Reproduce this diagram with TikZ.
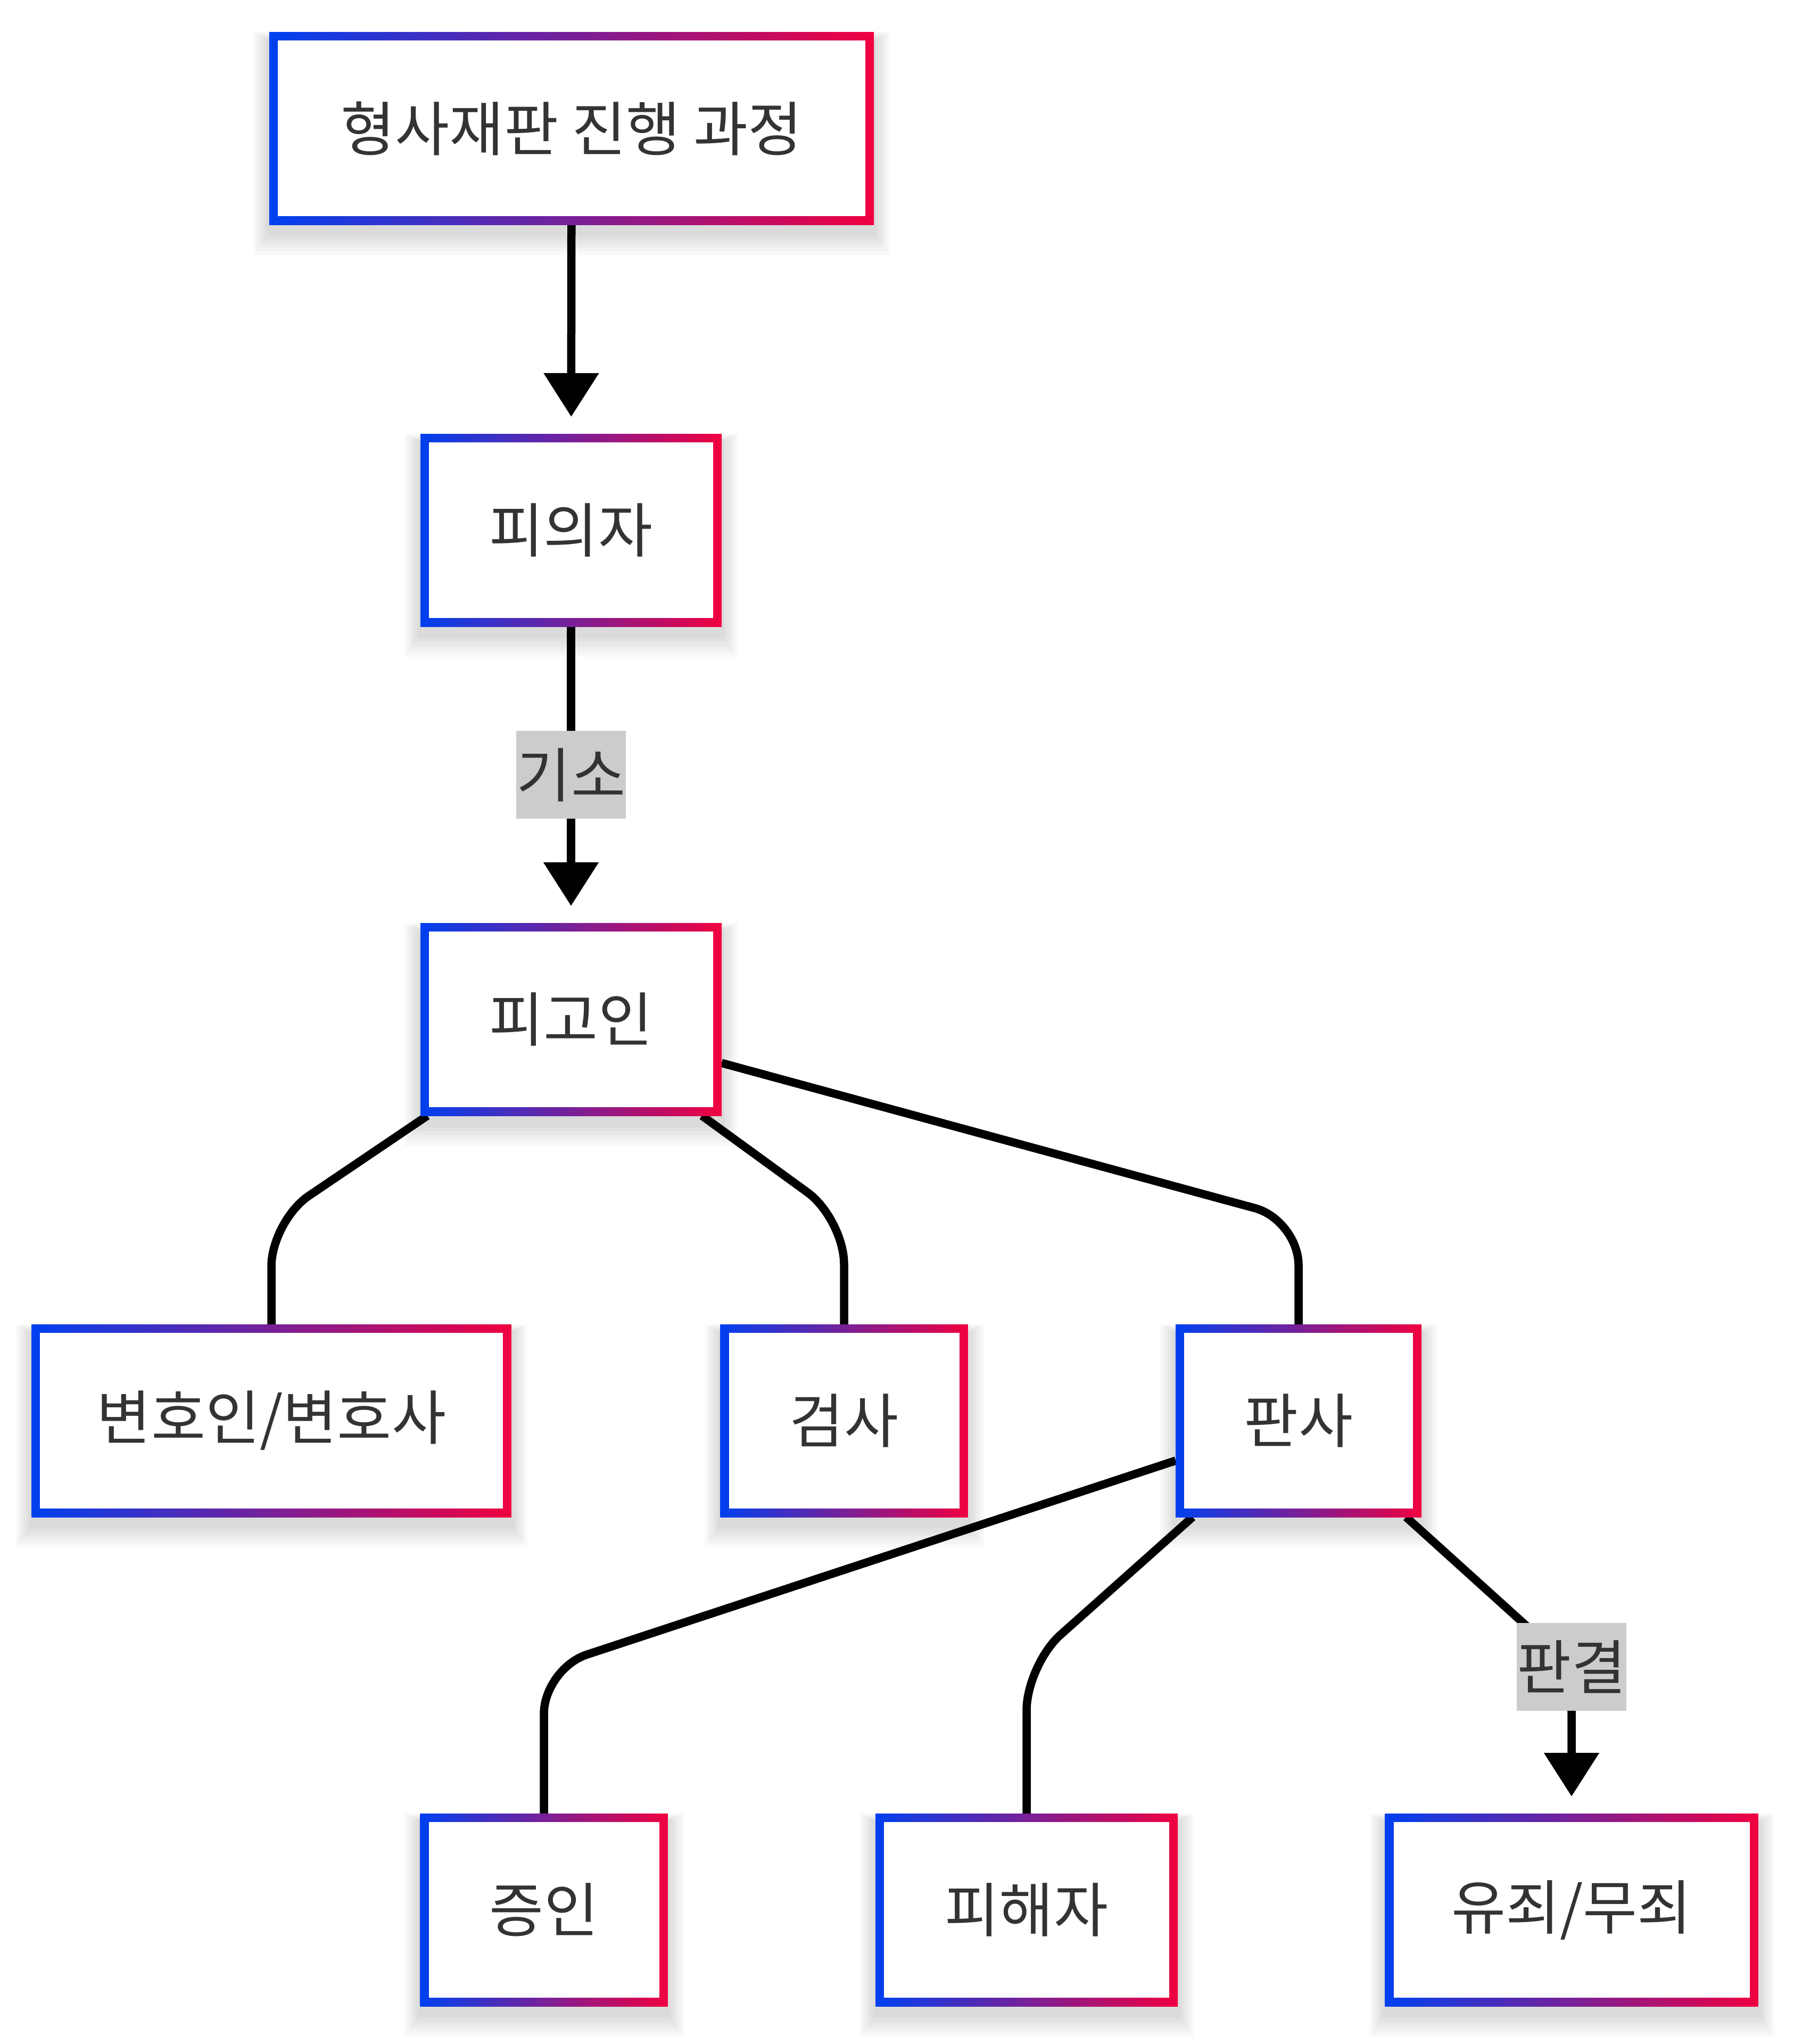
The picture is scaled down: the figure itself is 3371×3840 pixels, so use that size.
\documentclass[tikz,border=0pt]{standalone}
\usepackage{fontspec}
\newfontfamily\kr{Noto Sans CJK KR}
\usetikzlibrary{arrows.meta}
\definecolor{gblue}{RGB}{0,64,240}
\definecolor{gred}{RGB}{240,0,64}
\definecolor{txt}{RGB}{51,51,51}
\definecolor{lblbg}{RGB}{204,204,204}
\pgfdeclarelayer{bg}
\pgfdeclarelayer{shd}
\pgfdeclarelayer{edg}
\pgfdeclarelayer{brd}
\pgfsetlayers{bg,shd,edg,brd,main}
\newcommand\gborder[1]{%
  \begin{pgfonlayer}{shd}
    \foreach \i in {1,...,6} {
      \fill[black,opacity=0.022] ([shift={(-\i*1pt,-\i*1.4pt-3pt)}]#1.south west) rectangle ([shift={(\i*1pt,\i*0.5pt-3pt)}]#1.north east);
    }
  \end{pgfonlayer}
  \begin{pgfonlayer}{brd}
    \shade[left color=gblue,right color=gred] (#1.south west) rectangle (#1.north east);
    \fill[white] ([shift={(3.2pt,3.2pt)}]#1.south west) rectangle ([shift={(-3.2pt,-3.2pt)}]#1.north east);
  \end{pgfonlayer}}
\tikzset{
  box/.style={minimum height=72pt, inner sep=0pt, text=txt, font=\kr\fontsize{22.2pt}{26pt}\selectfont},
  lbl/.style={sharp corners, fill=lblbg, inner sep=0pt, minimum width=41.2pt, minimum height=33pt, text=txt, font=\kr\fontsize{22.2pt}{26pt}\selectfont},
  conn/.style={line width=3.1pt, rounded corners=17pt},
  arr/.style={-{Triangle[width=20pt,length=16.4pt]}, shorten >=6.4pt}
}
\begin{document}
\begin{tikzpicture}[x=0.2pt,y=-0.2pt]
\useasboundingbox (0,0) rectangle (3371,3840);
\begin{pgfonlayer}{bg}
\fill[white] (0,0) rectangle (3371,3840);
\end{pgfonlayer}
\node[box,minimum width=226.8pt] (top) at (1074,241) {형사재판 진행 과정};
\node[box,minimum width=112.8pt] (pij) at (1073,996) {피의자};
\node[box,minimum width=112.8pt] (pgi) at (1073,1915) {피고인};
\node[box,minimum width=179.8pt] (byn) at (510,2669) {변호인/변호사};
\node[box,minimum width=92.6pt] (gs) at (1586,2669) {검사};
\node[box,minimum width=92pt] (ps) at (2440,2669) {판사};
\node[box,minimum width=92.6pt] (jw) at (1022,3588) {증인};
\node[box,minimum width=113.2pt] (phj) at (1929,3588) {피해자};
\node[box,minimum width=139.8pt] (yj) at (2953,3588) {유죄/무죄};
\foreach \n in {top,pij,pgi,byn,gs,ps,jw,phj,yj} {\gborder{\n}}
\coordinate (c3) at (510,2294);
\coordinate (c4) at (1586,2290);
\coordinate (c5) at (2440,2292);
\coordinate (c6) at (1022,3135);
\coordinate (c7) at (1929,3128);
\coordinate (c8) at (2953,3131);
\begin{pgfonlayer}{edg}
\draw[conn,arr] (top) -- (pij);
\draw[conn,arr] (pij) -- node[lbl]{기소} (pgi);
\draw[conn] ([xshift=2.6pt]pgi.south west) -- (c3) -- (byn.north);
\draw[conn] ([xshift=-7.4pt]pgi.south east) -- (c4) -- (gs.north);
\draw[conn] ([yshift=-16.4pt]pgi.east) -- (c5) -- (ps.north);
\draw[conn] ([yshift=-15pt]ps.west) -- (c6) -- (jw.north);
\draw[conn] ([xshift=6.4pt]ps.south west) -- (c7) -- (phj.north);
\draw[conn,arr] ([xshift=-5.8pt]ps.south east) -- (c8) -- (yj.north);
\node[lbl] (l8) at (c8) {판결};
\end{pgfonlayer}
\end{tikzpicture}
\end{document}
